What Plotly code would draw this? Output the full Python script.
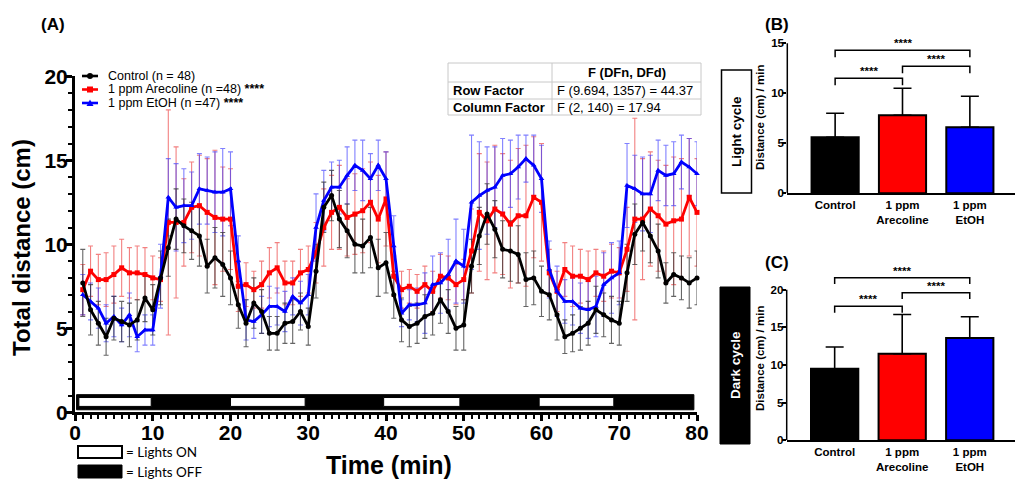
import plotly.graph_objects as go

W, H = 1021, 484

# ---------------- Panel A data ----------------
time_min = list(range(1, 81))

control_mean = [7.7, 6.1, 5.3, 4.5, 5.6, 5.4, 5.2, 5.5, 6.8, 6.1,
                8.0, 9.8, 11.5, 11.1, 10.8, 10.5, 8.7, 9.2, 8.8, 8.0,
                6.4, 5.3, 6.5, 6.0, 4.7, 4.7, 5.3, 5.4, 6.0, 5.1,
                8.4, 12.2, 12.9, 11.5, 10.8, 10.0, 9.9, 10.4, 8.6, 8.9,
                7.0, 5.5, 5.1, 5.3, 5.7, 5.9, 6.7, 6.0, 5.0, 5.2,
                8.7, 10.5, 11.8, 10.9, 9.7, 9.6, 9.4, 7.9, 8.0, 7.2,
                7.0, 5.8, 4.5, 4.7, 5.0, 5.3, 6.1, 5.8, 5.5, 5.3,
                8.3, 10.6, 11.3, 10.5, 9.6, 7.7, 8.2, 8.0, 7.7, 8.0]
control_err = [2.0, 1.5, 1.3, 1.1, 1.3, 1.2, 1.3, 1.2, 1.4, 1.5,
               1.6, 1.7, 1.8, 1.6, 1.7, 1.8, 1.6, 1.8, 1.9, 1.6,
               1.4, 1.4, 1.5, 1.3, 1.0, 1.0, 1.2, 1.3, 1.1, 1.1,
               1.6, 1.5, 1.5, 1.7, 1.6, 1.7, 1.6, 1.8, 1.7, 1.8,
               1.4, 1.3, 1.2, 1.2, 1.3, 1.3, 1.4, 1.3, 1.3, 1.5,
               1.6, 1.7, 1.8, 1.7, 1.7, 1.8, 1.7, 1.6, 1.6, 1.5,
               1.5, 1.5, 1.0, 1.1, 1.3, 1.3, 1.4, 1.3, 1.4, 1.3,
               1.7, 1.8, 1.7, 1.6, 1.6, 1.2, 1.3, 1.3, 1.5, 1.6]

arecoline_mean = [7.3, 8.4, 7.9, 7.9, 8.2, 8.6, 8.3, 8.3, 8.2, 8.0,
                  7.9, 11.3, 11.3, 11.3, 12.2, 12.3, 11.9, 11.6, 11.5, 11.5,
                  7.5, 7.6, 7.3, 7.6, 8.3, 8.6, 7.7, 7.7, 8.3, 8.5,
                  9.5, 11.0, 11.9, 12.2, 11.6, 11.8, 12.0, 12.5, 11.5, 12.7,
                  8.1, 7.3, 7.5, 7.2, 7.6, 7.2, 8.1, 8.0, 7.6, 7.9,
                  9.6, 11.9, 11.4, 12.1, 11.8, 11.2, 11.7, 11.7, 12.8, 12.5,
                  8.3, 7.2, 8.5, 8.1, 8.1, 7.9, 8.3, 8.1, 8.4, 8.3,
                  9.7, 11.5, 11.5, 12.1, 11.7, 11.2, 11.4, 11.5, 12.8, 11.9]
arecoline_err = [1.5, 1.5, 1.5, 1.6, 1.7, 1.7, 1.5, 1.6, 1.6, 1.3,
                 1.3, 6.7, 4.5, 2.6, 2.7, 3.0, 3.2, 4.0, 3.1, 3.0,
                 1.5, 1.3, 1.1, 1.4, 1.5, 1.5, 1.3, 1.3, 1.4, 1.4,
                 1.8, 2.3, 2.2, 2.5, 2.3, 2.4, 2.5, 2.4, 2.6, 2.8,
                 1.2, 1.1, 1.0, 1.0, 1.1, 1.2, 1.3, 1.3, 1.2, 1.2,
                 2.5, 3.5, 3.5, 3.8, 3.6, 3.8, 4.0, 4.2, 3.6, 3.5,
                 1.4, 1.2, 1.6, 1.8, 1.6, 1.7, 1.4, 1.5, 1.6, 1.5,
                 2.5, 6.0, 3.6, 3.4, 3.3, 3.5, 3.8, 3.6, 3.5, 3.2]

etoh_mean = [7.0, 6.6, 6.2, 5.3, 5.7, 5.2, 5.8, 4.5, 4.9, 4.9,
             8.1, 12.8, 12.2, 12.3, 12.3, 13.3, 13.2, 13.1, 13.1, 13.3,
             9.0, 5.5, 5.4, 5.8, 6.3, 6.3, 6.0, 6.9, 6.5, 7.0,
             11.0, 12.6, 13.4, 13.4, 14.1, 14.7, 14.4, 13.9, 14.7, 13.9,
             9.9, 5.9, 6.4, 6.4, 6.5, 7.6, 7.7, 8.2, 9.0, 8.7,
             12.5, 12.9, 13.2, 13.4, 14.1, 14.2, 14.6, 15.1, 14.7, 13.9,
             8.5, 7.2, 6.6, 6.6, 6.2, 6.1, 6.3, 7.6, 8.0, 8.3,
             13.5, 13.3, 13.0, 13.0, 14.4, 14.1, 14.2, 14.9, 14.6, 14.2]
etoh_err = [1.2, 1.1, 1.2, 1.1, 1.2, 1.0, 1.3, 0.9, 0.9, 0.9,
            1.9, 2.3, 2.6, 2.2, 2.0, 2.1, 2.0, 2.4, 2.6, 2.2,
            1.5, 1.2, 1.0, 1.1, 1.2, 1.1, 1.2, 1.1, 1.3, 1.2,
            2.0, 1.8, 1.5, 1.6, 1.7, 1.5, 1.8, 1.5, 1.5, 1.6,
            1.8, 0.8, 0.9, 1.0, 1.8, 1.7, 1.8, 2.1, 2.5, 2.2,
            4.0, 3.2, 2.6, 2.4, 2.2, 2.0, 1.9, 1.4, 1.8, 2.0,
            1.7, 1.5, 1.3, 1.4, 1.5, 1.7, 1.8, 1.9, 2.1, 1.9,
            2.5, 2.0, 2.2, 2.3, 1.8, 1.8, 1.9, 1.6, 1.7, 1.9]

series_names = ["Control (n = 48)",
                "1 ppm Arecoline (n =48) <b>****</b>",
                "1 ppm EtOH (n =47) <b>****</b>"]
series_colors = ["#000000", "#ff0000", "#0000ff"]
err_colors = ["rgba(50,50,50,0.75)", "rgba(235,60,60,0.65)", "rgba(60,60,255,0.65)"]
series_symbols = ["circle", "square", "triangle-up"]

lights_on = [(0.5, 9.8), (20.0, 29.6), (39.7, 49.5), (59.7, 69.3)]
schedule_span = (0.2, 79.6)

x_ticks_a = [0, 10, 20, 30, 40, 50, 60, 70, 80]
y_ticks_a = [0, 5, 10, 15, 20]

table_header = ["", "F (DFn, DFd)"]
table_rows = [["Row Factor", "F (9.694, 1357) = 44.37"],
              ["Column Factor", "F (2, 140) = 17.94"]]

# ---------------- Panels B / C data ----------------
groups = ["Control", "1 ppm<br>Arecoline", "1 ppm<br>EtOH"]
bar_colors = ["#000000", "#ff0000", "#0000ff"]
light_mean = [5.6, 7.8, 6.6]
light_err = [2.4, 2.7, 3.1]
dark_mean = [9.5, 11.5, 13.6]
dark_err = [2.9, 5.2, 2.8]
sig_pairs = [(0, 1), (1, 2), (0, 2)]
sig_labels = ["****", "****", "****"]
light_bracket_y = [11.5, 12.7, 14.3]
dark_bracket_y = [17.8, 19.6, 21.6]
light_ticks = [0, 5, 10, 15]
dark_ticks = [0, 5, 10, 15, 20]

FONT = "Liberation Sans, Arial, sans-serif"


def px(x):
    return x / W


def py(y):
    return 1 - y / H


def label(x, y, text, size, color="black", angle=0, xanchor="center", family=FONT):
    return dict(x=px(x), y=py(y), xref="paper", yref="paper", text=text, textangle=angle,
                showarrow=False, xanchor=xanchor, yanchor="middle",
                font=dict(family=family, size=size, color=color))


fig = go.Figure()

# error bars first (below lines)
means = [control_mean, arecoline_mean, etoh_mean]
errs = [control_err, arecoline_err, etoh_err]
draw_order = [1, 2, 0]
for i in draw_order:
    fig.add_trace(go.Scatter(
        x=time_min, y=means[i], mode="markers",
        marker=dict(size=2, color="rgba(0,0,0,0)"),
        error_y=dict(type="data", array=errs[i], color=err_colors[i],
                     thickness=1.1, width=2.5),
        showlegend=False, hoverinfo="skip", cliponaxis=False,
        xaxis="x", yaxis="y"))
for i in draw_order:
    fig.add_trace(go.Scatter(
        x=time_min, y=means[i], mode="lines+markers", name=series_names[i],
        line=dict(color=series_colors[i], width=2.8),
        marker=dict(symbol=series_symbols[i], size=5, color=series_colors[i]),
        showlegend=False, cliponaxis=False, xaxis="x", yaxis="y"))

# bars B and C
fig.add_trace(go.Bar(
    x=list(range(len(groups))), y=light_mean, width=0.70,
    marker=dict(color=bar_colors, line=dict(color="black", width=2)),
    error_y=dict(type="data", symmetric=False, array=light_err,
                 arrayminus=[0] * len(groups), color="black", thickness=1.6, width=9),
    showlegend=False, xaxis="x2", yaxis="y2"))
fig.add_trace(go.Bar(
    x=list(range(len(groups))), y=dark_mean, width=0.70,
    marker=dict(color=bar_colors, line=dict(color="black", width=2)),
    error_y=dict(type="data", symmetric=False, array=dark_err,
                 arrayminus=[0] * len(groups), color="black", thickness=1.6, width=9),
    showlegend=False, xaxis="x3", yaxis="y3"))

annotations = []
shapes = []

# significance brackets
for (xa, ya, ys, drop) in [("x2", "y2", light_bracket_y, 0.7), ("x3", "y3", dark_bracket_y, 0.85)]:
    for (a, b), yb, lab in zip(sig_pairs, ys, sig_labels):
        fig.add_trace(go.Scatter(
            x=[a, a, b, b], y=[yb - drop, yb, yb, yb - drop], mode="lines",
            line=dict(color="black", width=1.5), showlegend=False,
            hoverinfo="skip", xaxis=xa, yaxis=ya))
        annotations.append(dict(x=(a + b) / 2, y=yb, xref=xa, yref=ya, text="<b>" + lab + "</b>",
                                showarrow=False, xanchor="center", yanchor="bottom", yshift=-1,
                                font=dict(family=FONT, size=11.5, color="black")))

# y-axis lines of B and C (ending at top tick)
shapes.append(dict(type="line", xref="x2 domain", yref="y2", x0=0, x1=0,
                   y0=0, y1=light_ticks[-1], line=dict(color="black", width=1.5)))
shapes.append(dict(type="line", xref="x3 domain", yref="y3", x0=0, x1=0,
                   y0=0, y1=dark_ticks[-1], line=dict(color="black", width=1.5)))

# light / dark schedule bar in panel A
shapes.append(dict(type="rect", xref="x", yref="y", x0=schedule_span[0], x1=schedule_span[1],
                   y0=0.15, y1=1.05, fillcolor="black", line=dict(color="black", width=1)))
for (a, b) in lights_on:
    shapes.append(dict(type="rect", xref="x", yref="y", x0=a, x1=b, y0=0.35, y1=0.88,
                       fillcolor="white", line=dict(color="black", width=1)))

# manual legend of panel A
leg_y = [76, 89.5, 103]
for i in range(3):
    yy = leg_y[i]
    shapes.append(dict(type="line", xref="paper", yref="paper", x0=px(82), x1=px(98),
                       y0=py(yy), y1=py(yy), line=dict(color=series_colors[i], width=2.6)))
    cx = 90
    if series_symbols[i] == "circle":
        shapes.append(dict(type="circle", xref="paper", yref="paper", x0=px(cx - 3), x1=px(cx + 3),
                           y0=py(yy - 3), y1=py(yy + 3), fillcolor=series_colors[i],
                           line=dict(color=series_colors[i], width=0)))
    elif series_symbols[i] == "square":
        shapes.append(dict(type="rect", xref="paper", yref="paper", x0=px(cx - 3), x1=px(cx + 3),
                           y0=py(yy - 3), y1=py(yy + 3), fillcolor=series_colors[i],
                           line=dict(color=series_colors[i], width=0)))
    else:
        path = "M %f,%f L %f,%f L %f,%f Z" % (px(cx - 3.5), py(yy + 3), px(cx + 3.5), py(yy + 3),
                                              px(cx), py(yy - 3.5))
        shapes.append(dict(type="path", xref="paper", yref="paper", path=path,
                           fillcolor=series_colors[i], line=dict(color=series_colors[i], width=0)))
    annotations.append(label(106, yy, series_names[i], 12.5, xanchor="left"))

# statistics table
tx0, txm, tx1 = 448, 552, 701
ty = [63, 82, 99, 115]
shapes.append(dict(type="rect", xref="paper", yref="paper", x0=px(tx0), x1=px(tx1),
                   y0=py(ty[-1]), y1=py(ty[0]), line=dict(color="#c8c8c8", width=1)))
for yy in ty[1:-1]:
    shapes.append(dict(type="line", xref="paper", yref="paper", x0=px(tx0), x1=px(tx1),
                       y0=py(yy), y1=py(yy), line=dict(color="#c8c8c8", width=1)))
shapes.append(dict(type="line", xref="paper", yref="paper", x0=px(txm), x1=px(txm),
                   y0=py(ty[-1]), y1=py(ty[0]), line=dict(color="#c8c8c8", width=1)))
annotations.append(label((txm + tx1) / 2, (ty[0] + ty[1]) / 2, "<b>" + table_header[1] + "</b>", 13))
for r, row in enumerate(table_rows):
    yc = (ty[r + 1] + ty[r + 2]) / 2
    annotations.append(label(tx0 + 3, yc, "<b>" + row[0] + "</b>", 13, xanchor="left"))
    annotations.append(label(txm + 3, yc, row[1], 13, xanchor="left"))

# lights legend
shapes.append(dict(type="rect", xref="paper", yref="paper", x0=px(78), x1=px(122),
                   y0=py(458), y1=py(446), fillcolor="white", line=dict(color="black", width=2)))
shapes.append(dict(type="rect", xref="paper", yref="paper", x0=px(78), x1=px(122),
                   y0=py(478), y1=py(465), fillcolor="black", line=dict(color="black", width=1)))
annotations.append(label(124, 452, "= Lights ON", 13.5, xanchor="left", family="Lato, sans-serif"))
annotations.append(label(124, 471.5, "= Lights OFF", 13.5, xanchor="left", family="Lato, sans-serif"))

# axis titles and panel labels
annotations.append(label(22, 248, "<b>Total distance (cm)</b>", 24, angle=-90))
annotations.append(label(389, 465, "<b>Time (min)</b>", 25))
annotations.append(label(53, 25, "<b>(A)</b>", 17))
annotations.append(label(777, 25, "<b>(B)</b>", 17))
annotations.append(label(777, 262, "<b>(C)</b>", 17))
annotations.append(label(760, 118, "<b>Distance (cm) / min</b>", 11.5, angle=-90))
annotations.append(label(760, 359, "<b>Distance (cm) / min</b>", 11.5, angle=-90))

# cycle boxes
shapes.append(dict(type="rect", xref="paper", yref="paper", x0=px(721.5), x1=px(751.5),
                   y0=py(193), y1=py(70), fillcolor="white", line=dict(color="black", width=1.5)))
annotations.append(label(736.5, 131.5, "<b>Light cycle</b>", 13.5, angle=-90))
shapes.append(dict(type="rect", xref="paper", yref="paper", x0=px(720), x1=px(750),
                   y0=py(444), y1=py(287), fillcolor="black", line=dict(color="black", width=1)))
annotations.append(label(735, 365, "<b>Dark cycle</b>", 13.5, color="white", angle=-90))

tick_font_a = dict(family=FONT, size=21, color="black", weight="bold")
tick_font_b = dict(family=FONT, size=11.5, color="black", weight="bold")

fig.update_layout(
    width=W, height=H, margin=dict(l=0, r=0, t=0, b=0, pad=0, autoexpand=False),
    paper_bgcolor="white", plot_bgcolor="white", showlegend=False,
    annotations=annotations, shapes=shapes,
    xaxis=dict(domain=[px(75), px(697)], range=[0, 80], anchor="y", automargin=False,
               tickvals=x_ticks_a, ticks="outside", ticklen=6, tickwidth=2.5, tickcolor="black",
               ticklabelstandoff=-7,
               showline=True, linewidth=3, linecolor="black", showgrid=False, zeroline=False,
               tickfont=tick_font_a,
               minor=dict(ticks="outside", dtick=1, ticklen=4, tickwidth=1.5, tickcolor="black")),
    yaxis=dict(domain=[py(412.3), py(76.3)], range=[0, 20], anchor="x", automargin=False,
               tickvals=y_ticks_a, ticks="outside", ticklen=6, tickwidth=2.5, tickcolor="black",
               ticklabelstandoff=-6,
               showline=True, linewidth=3, linecolor="black", showgrid=False, zeroline=False,
               tickfont=tick_font_a,
               minor=dict(ticks="outside", dtick=1, ticklen=4, tickwidth=1.5, tickcolor="black")),
    xaxis2=dict(domain=[px(787.3), px(1015)], range=[-0.71, 2.67], anchor="y2", automargin=False,
                tickvals=list(range(len(groups))), ticktext=groups, ticks="",
                showline=True, linewidth=1.5, linecolor="black", showgrid=False, zeroline=False,
                tickfont=tick_font_b),
    yaxis2=dict(domain=[py(193.3), py(33.3)], range=[0, 16], anchor="x2", automargin=False,
                tickvals=light_ticks, ticks="outside", ticklen=4, tickwidth=1.5, tickcolor="black",
                ticklabelstandoff=-4,
                showline=False, showgrid=False, zeroline=False, tickfont=tick_font_b),
    xaxis3=dict(domain=[px(786.7), px(1015)], range=[-0.71, 2.67], anchor="y3", automargin=False,
                tickvals=list(range(len(groups))), ticktext=groups, ticks="",
                showline=True, linewidth=1.5, linecolor="black", showgrid=False, zeroline=False,
                tickfont=tick_font_b),
    yaxis3=dict(domain=[py(440.3), py(440.3 - 22 * 7.53)], range=[0, 22], anchor="x3", automargin=False,
                tickvals=dark_ticks, ticks="outside", ticklen=4, tickwidth=1.5, tickcolor="black",
                ticklabelstandoff=-4,
                showline=False, showgrid=False, zeroline=False, tickfont=tick_font_b),
)

fig.write_html("out.html")
